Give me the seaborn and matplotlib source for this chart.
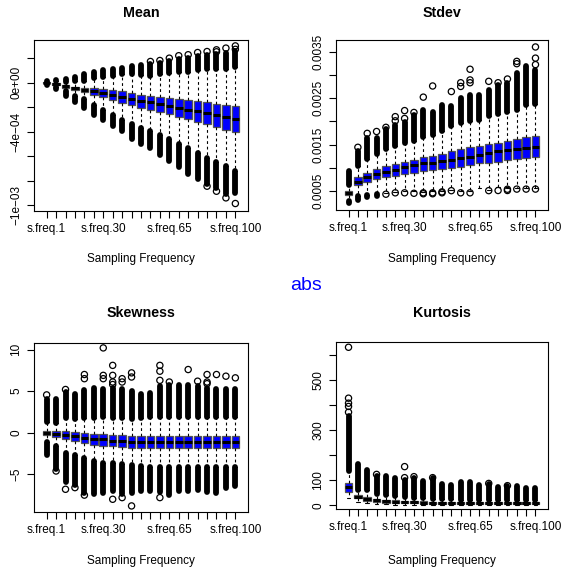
import matplotlib
matplotlib.use("Agg")
import matplotlib.pyplot as plt
import seaborn as sns
import pandas as pd

# categories on the x axis (21 sampling frequencies)
freq_labels = ["s.freq.1", "s.freq.5", "s.freq.10", "s.freq.15", "s.freq.20", "s.freq.25",
               "s.freq.30", "s.freq.35", "s.freq.40", "s.freq.45", "s.freq.50", "s.freq.55",
               "s.freq.60", "s.freq.65", "s.freq.70", "s.freq.75", "s.freq.80", "s.freq.85",
               "s.freq.90", "s.freq.95", "s.freq.100"]
shown_labels = ["s.freq.1", "s.freq.30", "s.freq.65", "s.freq.100"]

# ---- Mean (units of 1e-4) ----
mean_q1 = [-0.02, -0.16, -0.40, -0.63, -0.78, -0.98, -1.20, -1.42, -1.62, -1.85, -2.04,
           -2.22, -2.40, -2.58, -2.78, -2.98, -3.20, -3.40, -3.60, -3.82, -4.04]
mean_med = [0.0, -0.10, -0.30, -0.45, -0.57, -0.70, -0.84, -1.03, -1.16, -1.33, -1.46,
            -1.57, -1.73, -1.87, -2.06, -2.20, -2.33, -2.46, -2.60, -2.79, -2.93]
mean_q3 = [0.02, -0.04, -0.22, -0.33, -0.40, -0.45, -0.53, -0.62, -0.70, -0.84, -0.96,
           -1.10, -1.16, -1.24, -1.33, -1.44, -1.52, -1.60, -1.71, -1.84, -1.93]
mean_whislo = [-0.08, -0.34, -0.67, -1.08, -1.35, -1.78, -2.20, -2.62, -3.00, -3.37, -3.66,
               -3.90, -4.26, -4.59, -4.96, -5.29, -5.72, -6.10, -6.44, -6.79, -7.20]
mean_whishi = [0.08, 0.14, 0.05, 0.12, 0.17, 0.35, 0.47, 0.58, 0.68, 0.68, 0.66,
               0.58, 0.70, 0.77, 0.85, 0.87, 1.00, 1.10, 1.13, 1.13, 1.24]
mean_lo_end = [-0.15, -0.50, -1.05, -1.55, -2.10, -2.60, -3.05, -3.50, -3.95, -4.55, -5.00,
               -5.35, -5.90, -6.40, -6.85, -7.40, -7.85, -8.25, -8.60, -9.10, -9.00]
mean_hi_end = [0.15, 0.22, 0.28, 0.50, 0.70, 0.85, 1.00, 1.08, 1.20, 1.35, 1.42,
               1.50, 1.60, 1.75, 1.90, 2.00, 2.15, 2.25, 2.30, 2.45, 2.55]
mean_out_x = [11, 12, 13, 14, 15, 16, 17, 18, 18, 19, 20, 20, 20, 19, 18, 17]
mean_out_y = [1.73, 1.81, 2.00, 2.20, 2.28, 2.46, 2.54, 2.68, 2.52, 2.82, 3.00, 2.72,
              -9.84, -9.38, -8.84, -8.43]

# ---- Stdev (units of 1e-4) ----
std_q1 = [4.1, 6.3, 7.0, 7.5, 7.95, 8.2, 8.66, 8.94, 9.4, 9.5, 9.7,
          9.9, 10.2, 10.6, 11.0, 11.1, 11.3, 11.7, 11.8, 12.0, 12.3]
std_med = [4.5, 7.0, 8.1, 8.66, 9.16, 9.5, 10.2, 10.5, 11.0, 11.1, 11.5,
           11.7, 12.0, 12.4, 12.8, 13.1, 13.5, 13.8, 14.0, 14.2, 14.4]
std_q3 = [5.0, 7.95, 8.95, 9.7, 10.4, 10.8, 11.3, 11.7, 12.3, 12.5, 13.0,
          13.5, 14.0, 14.4, 14.7, 15.1, 15.4, 15.8, 16.1, 16.6, 16.9]
std_whislo = [2.9, 3.9, 4.2, 4.3, 4.5, 4.8, 4.9, 4.9, 4.8, 4.9, 5.0,
              5.3, 5.0, 5.0, 5.6, 5.3, 5.9, 5.6, 5.7, 5.7, 5.7]
std_whishi = [6.35, 10.4, 11.9, 13.0, 14.1, 14.7, 15.3, 15.8, 16.6, 17.0, 17.9,
              18.9, 19.7, 20.1, 20.3, 21.1, 21.5, 22.0, 22.5, 23.5, 23.8]
std_lo_end = [2.45, 3.1, 3.7, 3.9, 4.5, 4.8, 4.9, 4.9, 4.8, 4.9, 5.0,
              5.3, 5.0, 5.0, 5.6, 5.3, 5.9, 5.6, 5.7, 5.7, 5.7]
std_hi_end = [9.3, 13.7, 16.5, 16.4, 18.3, 19.2, 19.9, 21.4, 22.5, 22.1, 23.5,
              23.2, 25.0, 25.7, 25.7, 26.8, 27.8, 28.2, 30.4, 31.8, 31.0]
std_out_x = [1, 2, 3, 4, 5, 5, 6, 6, 7, 8, 9, 11, 12, 12, 13, 13, 13, 15, 16, 17,
             18, 18, 20, 20, 20,
             4, 5, 6, 7, 8, 8, 9, 9, 10, 10, 11, 12, 13, 15, 16, 17, 17, 18, 19, 20]
std_out_y = [14.4, 17.4, 17.8, 18.7, 20.1, 21.0, 20.6, 22.3, 21.9, 25.2, 27.6, 26.4, 27.5, 28.3,
             28.3, 28.9, 31.2, 28.6, 28.3, 29.1, 32.4, 32.9, 32.2, 33.6, 36.0,
             4.3, 4.6, 4.6, 4.5, 4.4, 4.6, 4.4, 4.6, 4.6, 4.8, 5.06, 4.6, 4.6, 5.07, 5.1,
             5.1, 5.37, 5.4, 5.4, 5.4]

# ---- Skewness ----
skew_q1 = [-0.30, -0.55, -0.80, -1.05, -1.20, -1.45, -1.55, -1.60, -1.70, -1.80, -1.85,
           -1.86, -1.86, -1.88, -1.86, -1.88, -1.86, -1.86, -1.88, -1.86, -1.86]
skew_med = [0.0, -0.15, -0.30, -0.45, -0.65, -0.75, -0.80, -0.95, -1.05, -1.10, -1.10,
            -1.12, -1.14, -1.14, -1.15, -1.14, -1.14, -1.15, -1.14, -1.14, -1.15]
skew_q3 = [0.25, 0.15, 0.25, 0.05, 0.0, -0.15, -0.15, -0.25, -0.30, -0.40, -0.40,
           -0.36, -0.34, -0.34, -0.35, -0.34, -0.34, -0.35, -0.34, -0.34, -0.34]
skew_whislo = [-1.13, -1.6, -2.38, -2.7, -3.0, -3.4, -3.65, -3.63, -3.8, -3.9, -4.03,
               -4.11, -4.14, -4.14, -4.14, -4.14, -4.14, -4.14, -4.14, -4.14, -4.14]
skew_whishi = [1.25, 1.2, 1.83, 1.7, 1.8, 1.8, 1.95, 1.78, 1.8, 1.7, 1.78,
               1.89, 1.93, 1.93, 1.93, 1.93, 1.93, 1.93, 1.93, 1.93, 1.93]
skew_lo_end = [-2.7, -4.3, -5.9, -6.3, -7.2, -7.4, -7.2, -7.0, -7.4, -7.2, -7.0,
               -7.0, -7.1, -7.5, -7.0, -7.0, -6.9, -7.1, -7.2, -6.7, -6.4]
skew_hi_end = [4.1, 4.0, 4.9, 4.7, 5.1, 5.4, 5.3, 5.4, 5.2, 5.0, 4.6,
               4.8, 5.6, 5.8, 5.8, 5.7, 5.6, 5.4, 5.3, 5.3, 5.2]
skew_out_x = [0, 2, 4, 4, 6, 6, 6, 7, 7, 7, 7, 8, 8, 9, 9, 12, 12, 12, 13, 15, 16, 17, 17,
              17, 18, 19, 20,
              1, 2, 3, 4, 7, 8, 9, 12]
skew_out_y = [4.55, 5.2, 6.5, 7.0, 6.5, 6.9, 10.2, 5.8, 6.1, 6.9, 8.1, 6.1, 6.5, 6.7, 7.2,
              6.3, 7.4, 8.1, 6.1, 7.6, 6.2, 5.9, 6.1, 7.0, 7.0, 6.8, 6.6,
              -4.6, -6.8, -6.6, -7.5, -8.0, -7.8, -8.8, -7.8]

# ---- Kurtosis ----
kurt_q1 = [55, 28, 18, 12, 10, 9, 8, 8, 7, 7, 7, 6, 6, 6, 6, 6, 6, 6, 6, 6, 6]
kurt_med = [75, 35, 27, 20, 16, 14, 13, 12, 11, 11, 10, 10, 10, 9, 9, 9, 9, 9, 9, 9, 9]
kurt_q3 = [88, 42, 35, 26, 22, 20, 18, 17, 16, 15, 14, 14, 13, 13, 13, 13, 12, 12, 12, 12, 12]
kurt_whislo = [31, 12, 8, 6, 4, 3, 3, 3, 3, 3, 3, 3, 3, 3, 3, 3, 3, 3, 3, 3, 3]
kurt_whishi = [137, 63, 60, 47, 40, 36, 33, 31, 29, 27, 24, 26, 23, 23, 23, 23, 21, 21, 21, 21, 21]
kurt_lo_end = [31, 12, 8, 6, 4, 3, 3, 3, 3, 3, 3, 3, 3, 3, 3, 3, 3, 3, 3, 3, 3]
kurt_hi_end = [355, 165, 140, 118, 116, 110, 100, 108, 96, 108, 84,
               81, 94, 92, 81, 85, 75, 76, 78, 71, 68]
kurt_out_x = [0, 0, 0, 0, 0, 3, 6, 6, 7, 9, 15, 17]
kurt_out_y = [372, 395, 408, 428, 631, 124, 111, 155, 115, 111, 88, 79]


def draw_panel(ax, q1, med, q3, whislo, whishi, lo_end, hi_end, out_x, out_y):
    pos = list(range(len(med)))
    stats = [dict(q1=a, med=b, q3=c, whislo=d, whishi=e, fliers=[])
             for a, b, c, d, e in zip(q1, med, q3, whislo, whishi)]
    ax.bxp(stats, positions=pos, widths=0.8, patch_artist=True, showfliers=False,
           boxprops=dict(facecolor="#0000ff", edgecolor="#555555", linewidth=0.9),
           medianprops=dict(color="black", linewidth=2.2, solid_capstyle="butt"),
           whiskerprops=dict(color="black", linewidth=0.8, linestyle=(0, (2.5, 2.5))),
           capprops=dict(color="black", linewidth=0.8), capwidths=0.4)
    # dense stacks of outliers drawn as a thick round-capped bar
    for x, lo, hi, wl, wh in zip(pos, lo_end, hi_end, whislo, whishi):
        if hi > wh:
            ax.plot([x, x], [wh, hi], color="black", lw=4.2, solid_capstyle="round", zorder=3)
        if lo < wl:
            ax.plot([x, x], [wl, lo], color="black", lw=4.2, solid_capstyle="round", zorder=3)
    d = pd.DataFrame({"x": out_x, "y": out_y})
    sns.scatterplot(data=d, x="x", y="y", ax=ax, marker="o", s=20, facecolor="none",
                    edgecolor="black", linewidth=0.9, zorder=4, legend=False)
    ax.set_xlim(-1.34, 21.34)
    ax.set_xticks(pos)
    ax.set_xticklabels([lab if lab in shown_labels else "" for lab in freq_labels])
    ax.set_xlabel("")
    ax.set_ylabel("")
    for s in ax.spines.values():
        s.set_visible(True)
        s.set_color("black")
        s.set_linewidth(0.8)
    ax.tick_params(direction="out", length=5, width=0.8, color="black",
                   labelsize=8.5, pad=3.5, labelcolor="black")
    ax.tick_params(axis="y", labelrotation=90)


sns.set_theme(style="ticks")
plt.rcParams["font.family"] = ["Liberation Sans", "DejaVu Sans"]
plt.rcParams["text.color"] = "black"
plt.rcParams["axes.labelcolor"] = "black"
plt.rcParams["axes.unicode_minus"] = True

W, H = 562, 572
fig = plt.figure(figsize=(W / 100, H / 100), dpi=100)
fig.patch.set_facecolor("white")


def add_axes(x0, y0, x1, y1):
    return fig.add_axes([x0 / W, 1 - y1 / H, (x1 - x0) / W, (y1 - y0) / H])


ax1 = add_axes(34, 40, 248, 211)
draw_panel(ax1, mean_q1, mean_med, mean_q3, mean_whislo, mean_whishi,
           mean_lo_end, mean_hi_end, mean_out_x, mean_out_y)
ax1.set_ylim(-10.45, 3.48)
ax1.set_yticks([2, 0, -2, -4, -6, -8, -10])
ax1.set_yticklabels(["", "0e+00", "", "\u22124e\u221204", "", "", "\u22121e\u221203"])

ax2 = add_axes(336, 40, 548, 210)
draw_panel(ax2, std_q1, std_med, std_q3, std_whislo, std_whishi,
           std_lo_end, std_hi_end, std_out_x, std_out_y)
ax2.set_ylim(0.9, 37.5)
ax2.set_yticks([5, 10, 15, 20, 25, 30, 35])
ax2.set_yticklabels(["0.0005", "", "0.0015", "", "0.0025", "", "0.0035"])

ax3 = add_axes(34, 343, 248, 512)
draw_panel(ax3, skew_q1, skew_med, skew_q3, skew_whislo, skew_whishi,
           skew_lo_end, skew_hi_end, skew_out_x, skew_out_y)
ax3.set_ylim(-9.53, 10.79)
ax3.set_yticks([-5, 0, 5, 10])
ax3.set_yticklabels(["\u22125", "0", "5", "10"])

ax4 = add_axes(336, 342, 548, 509)
draw_panel(ax4, kurt_q1, kurt_med, kurt_q3, kurt_whislo, kurt_whishi,
           kurt_lo_end, kurt_hi_end, kurt_out_x, kurt_out_y)
ax4.set_ylim(-14, 652)
ax4.set_yticks([0, 100, 200, 300, 400, 500, 600])
ax4.set_yticklabels(["0", "100", "", "300", "", "500", ""])

for ax in (ax1, ax2, ax3, ax4):
    for t in ax.get_yticklabels():
        t.set_va("center")
        t.set_color("black")
    for t in ax.get_xticklabels():
        t.set_color("black")

titles = [("Mean", 141, 13), ("Stdev", 442, 13), ("Skewness", 141, 313), ("Kurtosis", 442, 313)]
for txt, x, y in titles:
    fig.text(x / W, 1 - y / H, txt, ha="center", va="center", fontsize=10.3,
             fontweight="bold", color="black")

for x, y in [(141, 259), (442, 259), (141, 561), (442, 561)]:
    fig.text(x / W, 1 - y / H, "Sampling Frequency", ha="center", va="center",
             fontsize=8.5, color="black")

fig.text(306 / W, 1 - 285 / H, "abs", ha="center", va="center", fontsize=14, color="#0000ff")

fig.savefig("out.png", dpi=100, facecolor="white")
